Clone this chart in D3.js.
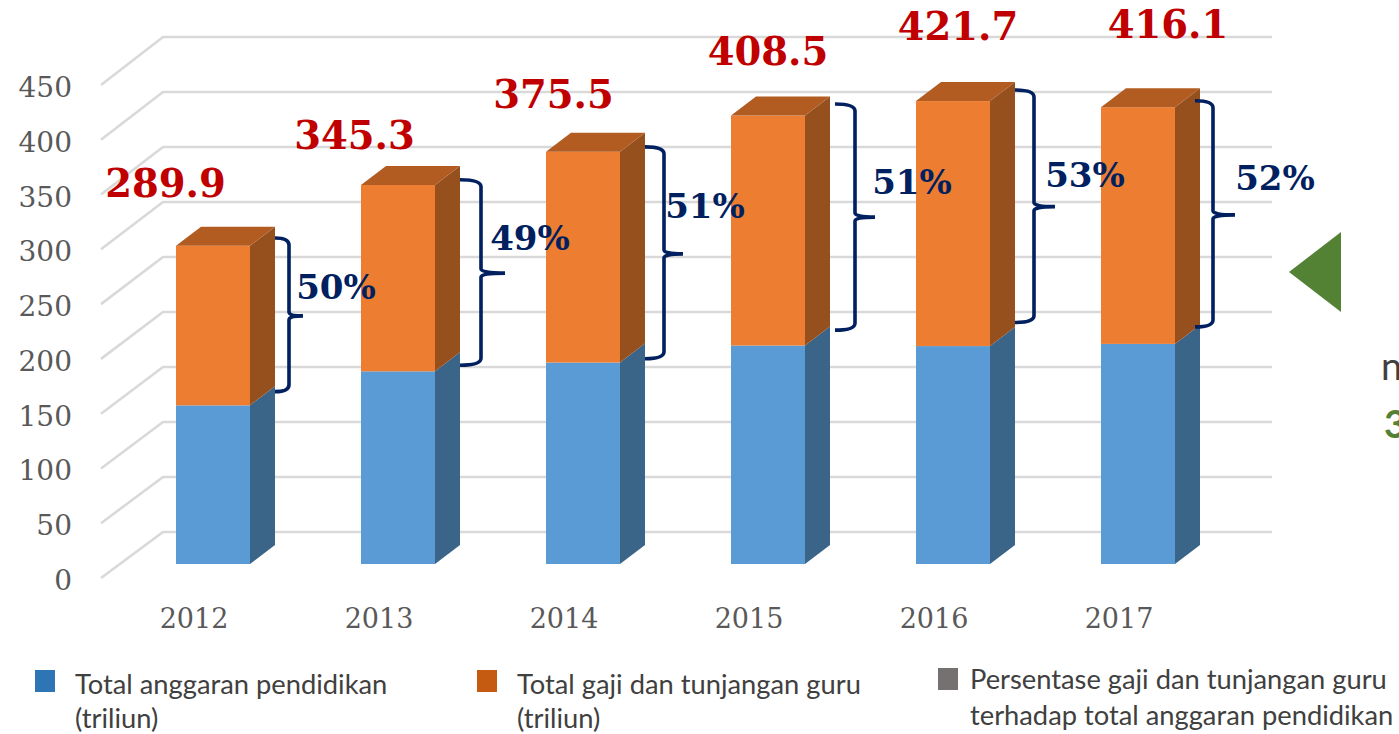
<!DOCTYPE html>
<html><head><meta charset="utf-8">
<script src="https://cdn.jsdelivr.net/npm/d3@7"></script>
<style>html,body{margin:0;padding:0;background:#fff;overflow:hidden}svg{display:block}</style>
</head><body><svg id="c" width="1399" height="734"></svg>
<script>
const years=["2012","2013","2014","2015","2016","2017"];
const totals=[289.9,345.3,375.5,408.5,421.7,416.1];
const totalLabels=["289.9","345.3","375.5","408.5","421.7","416.1"];
const blueTops=[144.5,175.5,183.5,199,198.5,200.5];
const percents=["50%","49%","51%","51%","53%","52%"];
const braceHigh=[297,350,380,419,431.8,422];
const braceTip=[226,265,282.5,316,325.5,318];
const braceLow=[157,181,187,213,220,216];
const ticks=[0,50,100,150,200,250,300,350,400,450];
const legendLabels=[["Total anggaran pendidikan","(triliun)"],["Total gaji dan tunjangan guru","(triliun)"],["Persentase gaji dan tunjangan guru","terhadap total anggaran pendidikan"]];
const legendColors=["#2e75b6","#c55a11","#767171"];

const svg=d3.select("#c");
const serif="'DejaVu Serif','Liberation Serif',serif";
const sans="Lato,'Open Sans',sans-serif";
const yFront=d3.scaleLinear().domain([0,450]).range([564,70]);
const yBack=d3.scaleLinear().domain([0,450]).range([532,37]);
const yLeft=d3.scaleLinear().domain([0,450]).range([578,85]);
const barX=d3.scaleLinear().domain([0,5]).range([176,1101]);
const barW=74, dx=25, dy=-19;

const grid=svg.append("g").attr("fill","none").attr("stroke","#d9d9d9").attr("stroke-width",2.6);
ticks.forEach(t=>{
  grid.append("path").attr("d",`M101,${yLeft(t)}L163,${yBack(t)}L1272,${yBack(t)}`);
  svg.append("text").attr("x",72).attr("y",yLeft(t)+12).attr("text-anchor","end")
    .attr("font-family",serif).attr("font-size",28).attr("fill","#595959").text(t);
});

function bar(i,v0,v1,front,side,top){
  const x0=barX(i),x1=x0+barW,y0=yFront(v0),y1=yFront(v1);
  const g=svg.append("g");
  g.append("path").attr("fill",side).attr("d",`M${x1},${y1}L${x1+dx},${y1+dy}L${x1+dx},${y0+dy}L${x1},${y0}Z`);
  g.append("rect").attr("x",x0).attr("y",y1).attr("width",barW).attr("height",y0-y1).attr("fill",front);
  if(top)g.append("path").attr("fill",top).attr("d",`M${x0},${y1}L${x0+dx},${y1+dy}L${x1+dx},${y1+dy}L${x1},${y1}Z`);
}
years.forEach((yr,i)=>{
  bar(i,0,blueTops[i],"#5b9bd5","#3a6488");
  bar(i,blueTops[i],totals[i],"#ed7d31","#96501e","#b25c22");
  svg.append("text").attr("x",barX(i)+18).attr("y",628).attr("text-anchor","middle")
    .attr("font-family",serif).attr("font-size",27).attr("fill","#595959").text(yr);
});
years.forEach((yr,i)=>{
  const lx=[165.5,354.5,553.5,768,958,1168][i], ly=[197,149,108,65,40,38][i];
  svg.append("text").attr("x",lx).attr("y",ly).attr("text-anchor","middle")
    .attr("font-family",serif).attr("font-weight","bold").attr("font-size",38.5).attr("fill","#c00000").text(totalLabels[i]);
  const bs=[275,460,645,835,1015,1195][i], bx=[289,481,664,855,1034,1213][i], be=[303,505,683,875,1055,1235][i];
  const t=yFront(braceHigh[i]), b=yFront(braceLow[i]), m=yFront(braceTip[i]);
  svg.append("path").attr("fill","none").attr("stroke","#002060").attr("stroke-width",3.6)
    .attr("d",`M${bs},${t}Q${bx},${t} ${bx},${t+7}L${bx},${m-4}Q${bx},${m} ${be},${m}Q${bx},${m} ${bx},${m+4}L${bx},${b-7}Q${bx},${b} ${bs},${b}`);
  svg.append("text").attr("x",[336,530,705,912,1085,1275][i]).attr("y",[299,250,218,194,187,190][i]).attr("text-anchor","middle")
    .attr("font-family",serif).attr("font-weight","bold").attr("font-size",34).attr("fill","#002060").text(percents[i]);
});

legendLabels.forEach((ls,i)=>{
  const sx=[35,477,938][i], sy=[670,670,668][i], tx=[75,517,970][i], ty=[694,694,689][i];
  svg.append("rect").attr("x",sx).attr("y",sy).attr("width",20).attr("height",22).attr("fill",legendColors[i]);
  ls.forEach((l,j)=>svg.append("text").attr("x",tx).attr("y",ty+j*(i==2?36:34)).attr("font-family",sans).attr("font-size",27.3).attr("fill","#404040").text(l));
});

svg.append("path").attr("fill","#548235").attr("d","M1289,272L1341,232L1341,312Z");
svg.append("text").attr("x",1381).attr("y",380).attr("font-family",sans).attr("font-size",38).attr("fill","#404040").text("n");
svg.append("text").attr("x",1384).attr("y",438).attr("font-family",sans).attr("font-weight","bold").attr("font-size",38).attr("fill","#548235").text("3");
</script></body></html>
